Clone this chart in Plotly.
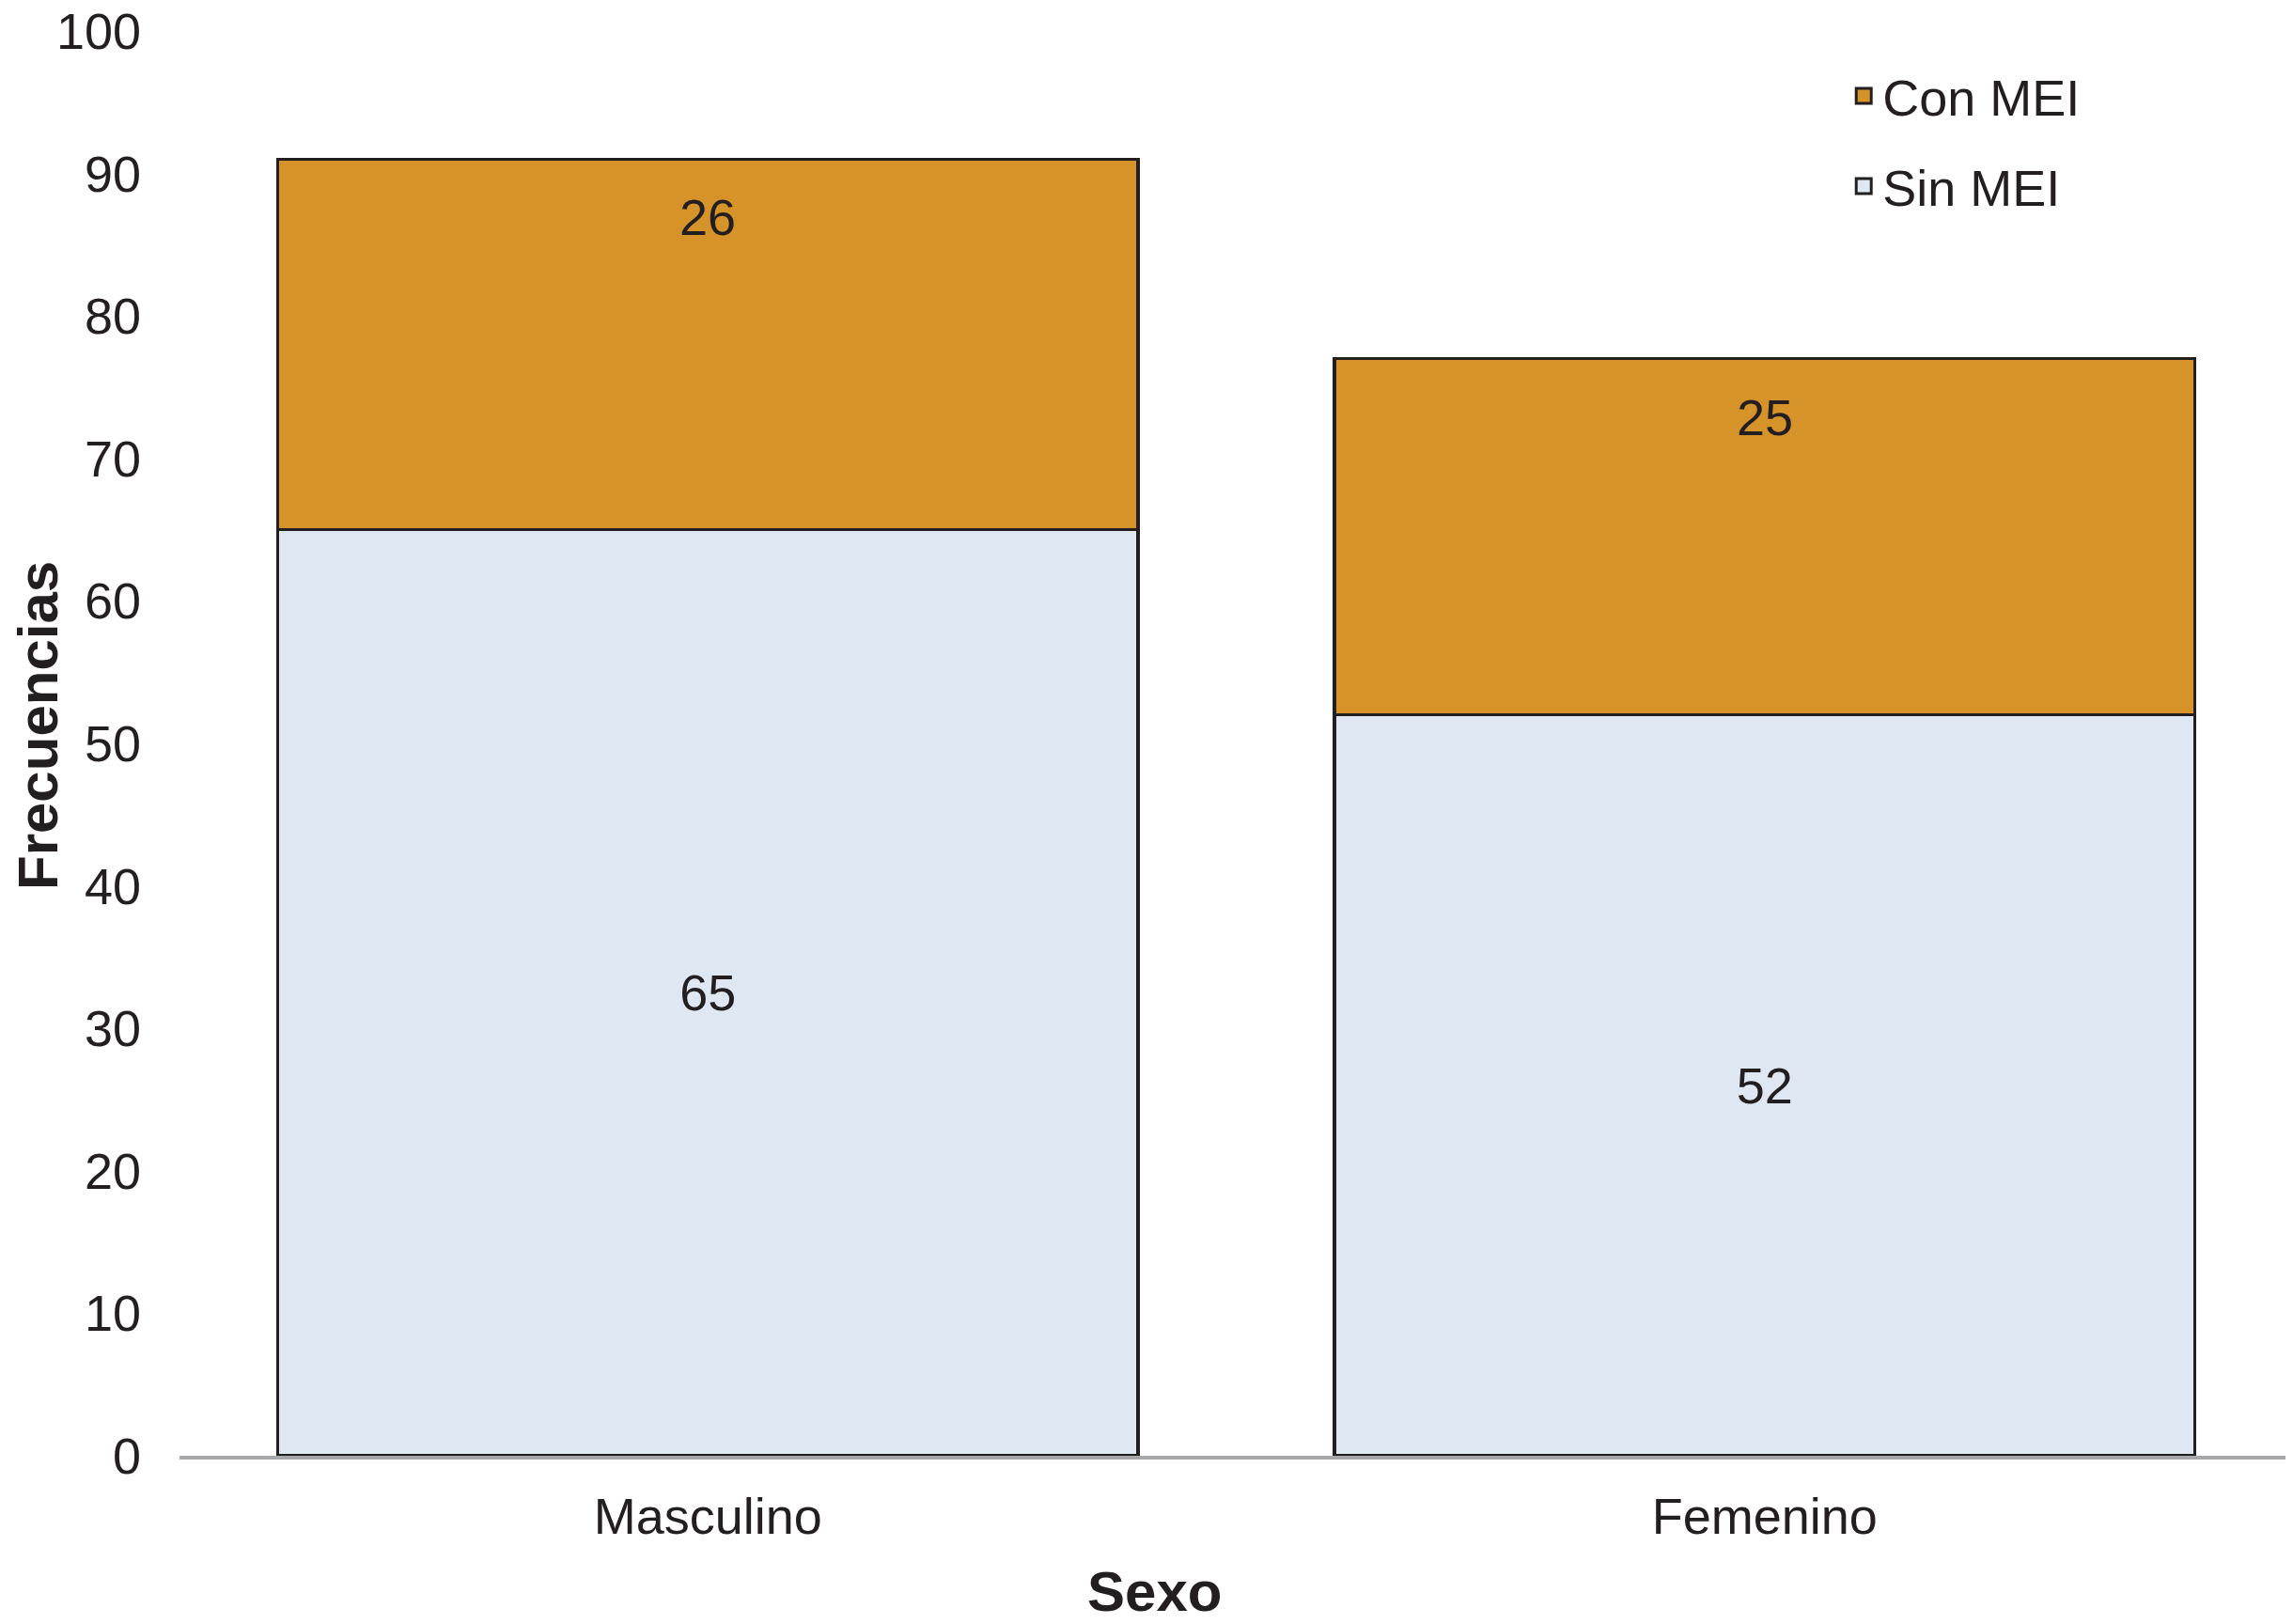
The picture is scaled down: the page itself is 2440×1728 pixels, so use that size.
import plotly.graph_objects as go

categories = ["Masculino", "Femenino"]
sin_mei = [65, 52]
con_mei = [26, 25]
y_ticks = [0, 10, 20, 30, 40, 50, 60, 70, 80, 90, 100]

FONT = "Liberation Sans, Arial, Helvetica, sans-serif"
TXT = "#231f20"
ORANGE = "#d5932a"
LBLUE = "#dee7f2"
OUTLINE = "#231f20"

fig = go.Figure()
fig.add_trace(go.Bar(
    x=categories, y=sin_mei, name="Sin MEI",
    marker=dict(color=LBLUE, line=dict(color=OUTLINE, width=3.5)),
    text=[str(v) for v in sin_mei], textposition="inside", insidetextanchor="middle",
    textangle=0, textfont=dict(family=FONT, size=54, color=TXT),
    showlegend=False,
))
fig.add_trace(go.Bar(
    x=categories, y=con_mei, name="Con MEI",
    marker=dict(color=ORANGE, line=dict(color=OUTLINE, width=3.5)),
    showlegend=False,
))
# Data labels for Con MEI near the top of each bar
for c, s, v in zip(categories, sin_mei, con_mei):
    fig.add_annotation(x=c, y=s + v, text=str(v), showarrow=False, yshift=-62,
                       font=dict(family=FONT, size=54, color=TXT))

# Legend entries
fig.add_trace(go.Scatter(x=[None], y=[None], mode="markers", name="Con MEI",
                         legendgroup="a",
                         marker=dict(symbol="square", size=16, color=ORANGE,
                                     line=dict(color=OUTLINE, width=3))))
fig.add_trace(go.Scatter(x=[None], y=[None], mode="markers", name="Sin MEI",
                         legendgroup="b",
                         marker=dict(symbol="square", size=16, color=LBLUE,
                                     line=dict(color=OUTLINE, width=3))))

# Axis titles placed as in the reference
fig.add_annotation(x=0.4615, y=0, xref="paper", yref="paper", text="<b>Sexo</b>",
                   showarrow=False, yshift=-144, xanchor="center", yanchor="middle",
                   font=dict(family=FONT, size=60, color=TXT))
fig.add_annotation(x=0, y=0.5, xref="paper", yref="paper", text="<b>Frecuencias</b>",
                   showarrow=False, xshift=-151, yshift=19, textangle=-90,
                   xanchor="center", yanchor="middle",
                   font=dict(family=FONT, size=60, color=TXT))

fig.update_layout(
    barmode="stack",
    bargap=0.186,
    width=2440, height=1728,
    margin=dict(l=183, r=8, t=25, b=187, autoexpand=False),
    paper_bgcolor="white", plot_bgcolor="white",
    font=dict(family=FONT, size=54, color=TXT),
    legend=dict(x=0.788, y=0.982, xanchor="left", yanchor="top",
                font=dict(family=FONT, size=54, color=TXT),
                tracegroupgap=23, bgcolor="rgba(0,0,0,0)"),
    xaxis=dict(showgrid=False, showline=True, linecolor="#a6a8ab", linewidth=4,
               ticks="", ticklabelstandoff=14, automargin=False,
               tickfont=dict(family=FONT, size=54, color=TXT),
               range=[-0.5, 1.5]),
    yaxis=dict(range=[0, 100], tickvals=y_ticks, showgrid=False, zeroline=False,
               showline=False, ticks="", ticklabelstandoff=40, automargin=False,
               ticklabeloverflow="allow",
               tickfont=dict(family=FONT, size=54, color=TXT)),
)

fig.write_html("out.html")
